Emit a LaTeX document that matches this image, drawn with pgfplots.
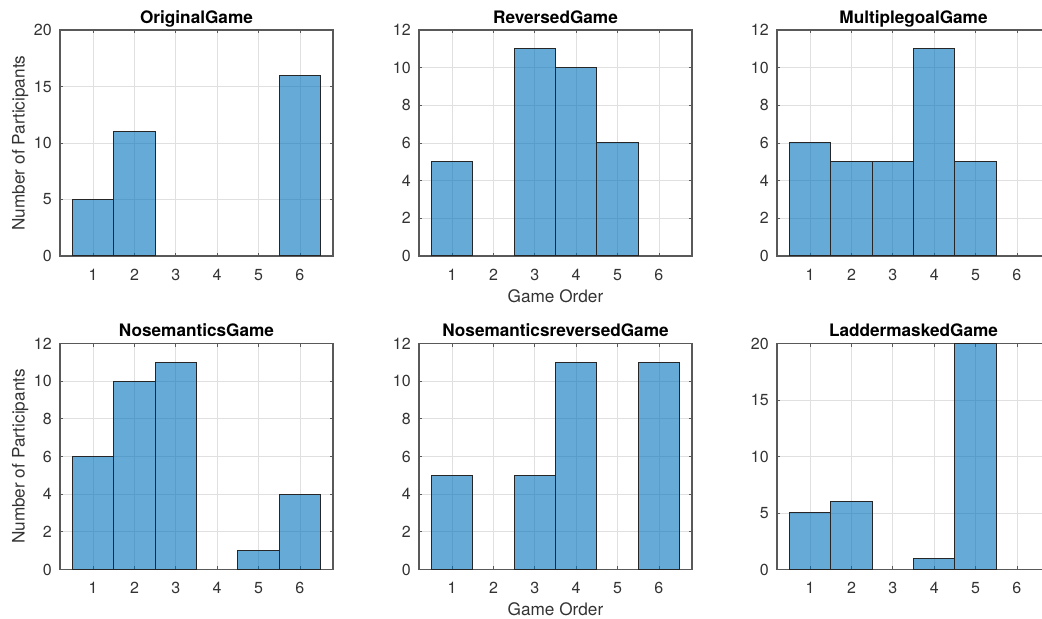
\documentclass[border=0pt]{standalone}
\usepackage{pgfplots}
\pgfplotsset{compat=1.18}
\usepackage{fontspec}
\setmainfont{TeX Gyre Heros}
\definecolor{barblue}{RGB}{0,114,189}
\definecolor{axgray}{gray}{0.35}
\pgfplotsset{
  hist/.style={
    scale only axis, width=136.5pt, height=113pt,
    xmin=0.2, xmax=6.8, ymin=0,
    xtick={1,2,3,4,5,6},
    ybar, bar width=1,
    tick align=inside, tick pos=both,
    major tick length=1.7pt,
    axis line style={axgray, line width=0.55pt},
    every tick/.style={axgray, line width=0.4pt},
    grid=major,
    major grid style={black!12, line width=0.4pt},
    /pgf/number format/assume math mode=true,
    tick label style={font=\fontsize{8}{9.6}\selectfont, text=black!80},
    xticklabel style={yshift=-3pt},
    yticklabel style={xshift=-0.6pt},
    every axis title shift=0pt,
    title style={font=\bfseries\fontsize{8.6}{10}\selectfont, at={(0.5,1.03)}, anchor=base, inner sep=0pt},
    label style={font=\fontsize{8.6}{10}\selectfont, text=black!80},
    xlabel style={at={(axis description cs:0.5,-0.177)}, anchor=center},
    ylabel style={at={(axis description cs:-0.146,0.5)}, anchor=center},
  },
  barstyle/.style={fill=barblue, fill opacity=0.6, draw=black!85, line width=0.5pt},
}
\begin{document}
\begin{tikzpicture}
\path[use as bounding box] (0,0) rectangle (521pt,309.5pt);
% Row 1
\begin{axis}[hist, at={(30pt,181.5pt)}, anchor=south west,
  ymax=20, ytick={0,5,10,15,20}, title={OriginalGame}, ylabel={Number of Participants}]
\addplot[barstyle] coordinates {(1,5) (2,11) (6,16)};
\end{axis}
\begin{axis}[hist, at={(209.5pt,181.5pt)}, anchor=south west,
  ymax=12, ytick={0,2,4,6,8,10,12}, title={ReversedGame}, xlabel={Game Order}]
\addplot[barstyle] coordinates {(1,5) (3,11) (4,10) (5,6)};
\end{axis}
\begin{axis}[hist, at={(388.5pt,181.5pt)}, anchor=south west,
  ymax=12, ytick={0,2,4,6,8,10,12}, title={MultiplegoalGame}]
\addplot[barstyle] coordinates {(1,6) (2,5) (3,5) (4,11) (5,5)};
\end{axis}
% Row 2
\begin{axis}[hist, at={(30pt,24.75pt)}, anchor=south west,
  ymax=12, ytick={0,2,4,6,8,10,12}, title={NosemanticsGame}, ylabel={Number of Participants}]
\addplot[barstyle] coordinates {(1,6) (2,10) (3,11) (5,1) (6,4)};
\end{axis}
\begin{axis}[hist, at={(209.5pt,24.75pt)}, anchor=south west,
  ymax=12, ytick={0,2,4,6,8,10,12}, title={NosemanticsreversedGame}, xlabel={Game Order}]
\addplot[barstyle] coordinates {(1,5) (3,5) (4,11) (6,11)};
\end{axis}
\begin{axis}[hist, at={(388.5pt,24.75pt)}, anchor=south west,
  ymax=20, ytick={0,5,10,15,20}, title={LaddermaskedGame}]
\addplot[barstyle] coordinates {(1,5) (2,6) (4,1) (5,20)};
\end{axis}
\end{tikzpicture}
\end{document}
